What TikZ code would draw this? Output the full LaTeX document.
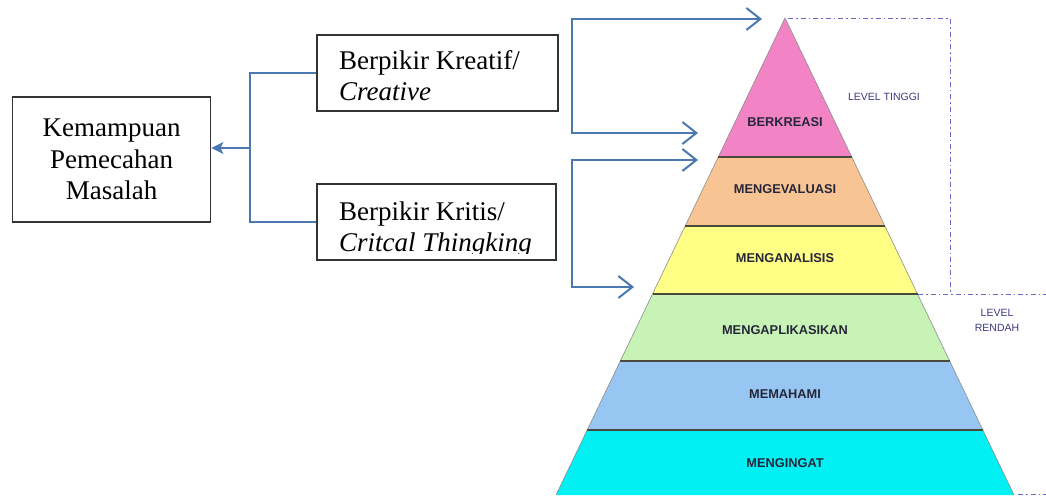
\documentclass[tikz,border=0pt]{standalone}
\usepackage{fontspec}
\setmainfont{Liberation Serif}
\newfontfamily\labfont{Liberation Sans}
\usetikzlibrary{arrows.meta,calc}
\definecolor{arrowblue}{HTML}{4A78B0}
\definecolor{dashblue}{HTML}{6A6AC8}
\definecolor{lvpink}{HTML}{F284C6}
\definecolor{lvorange}{HTML}{F8C493}
\definecolor{lvyellow}{HTML}{FFFF85}
\definecolor{lvgreen}{HTML}{C8F3B6}
\definecolor{lvblue}{HTML}{98C6F2}
\definecolor{lvcyan}{HTML}{00F0F4}
\definecolor{edgedark}{HTML}{4A4A3A}
\definecolor{lvtext}{HTML}{26263A}
\definecolor{leveltext}{HTML}{3A3A84}
\tikzset{
  box/.style={draw=black!80, line width=1.4pt, fill=white, inner sep=0pt},
  bigtext/.style={font=\fontsize{27}{31.5}\selectfont},
  lvl/.style={font=\labfont\bfseries\fontsize{12.8}{14}\selectfont, text=lvtext, inner sep=0pt},
  leveltag/.style={font=\labfont\fontsize{10.5}{15}\selectfont, text=leveltext, align=center, inner sep=0pt},
  conn/.style={draw=arrowblue, line width=2pt},
  barrow/.style={draw=arrowblue, line width=2pt, -{Straight Barb[length=14pt,width=22pt]}},
  dashln/.style={draw=dashblue, line width=1pt, dash pattern=on 5pt off 3pt on 1.5pt off 3pt},
  layeredge/.style={draw=edgedark, line width=1.5pt}
}
\begin{document}
\begin{tikzpicture}[x=1pt,y=-1pt]
\useasboundingbox[fill=white] (0,0) rectangle (1046,497);

% pyramid layers
\fill[lvpink]   (785,18) -- (851.7,157) -- (718.3,157) -- cycle;
\fill[lvorange] (718.3,157) -- (851.7,157) -- (884.8,226) -- (685.2,226) -- cycle;
\fill[lvyellow] (685.2,226) -- (884.8,226) -- (917.5,294) -- (652.5,294) -- cycle;
\fill[lvgreen]  (652.5,294) -- (917.5,294) -- (949.6,361) -- (620.4,361) -- cycle;
\fill[lvblue]   (620.4,361) -- (949.6,361) -- (982.8,430) -- (587.2,430) -- cycle;
\fill[lvcyan]   (587.2,430) -- (982.8,430) -- (1014,495) -- (556,495) -- cycle;
\draw[draw=black!45, line width=0.6pt] (556,495) -- (785,18) -- (1014,495);
\draw[layeredge] (718.3,157) -- (851.7,157);
\draw[layeredge] (685.2,226) -- (884.8,226);
\draw[layeredge] (652.5,294) -- (917.5,294);
\draw[layeredge] (620.4,361) -- (949.6,361);
\draw[layeredge] (587.2,430) -- (982.8,430);

\node[lvl] (berkreasi) at (785,122) {BERKREASI};
\node[lvl] (mengevaluasi) at (785,189) {MENGEVALUASI};
\node[lvl] (menganalisis) at (785,258) {MENGANALISIS};
\node[lvl] (mengaplikasikan) at (785,330) {MENGAPLIKASIKAN};
\node[lvl] (memahami) at (785,394) {MEMAHAMI};
\node[lvl] (mengingat) at (785,463) {MENGINGAT};

% dashed level frame
\draw[dashln] (788,19) -- (950,19) -- (950,294);
\draw[dashln] (918,294) -- (1046,294);
\draw[dashln] (1018,494) -- (1046,494);
\node[leveltag] (tinggi) at (884,97) {LEVEL TINGGI};
\node[leveltag] (rendah) at (997,320) {LEVEL\\RENDAH};

% left boxes
\node[box, bigtext, minimum width=198pt, minimum height=125pt, align=center] (kem) at (111.7,159.5)
  {Kemampuan\\Pemecahan\\Masalah};
\node[box, minimum width=241pt, minimum height=76pt] (kreatif) at (437.5,73) {};
\node[bigtext, anchor=base west, align=left, inner sep=0pt] (kreatiftext) at (339,101)
  {Berpikir Kreatif/\\\textit{Creative}};
\node[box, minimum width=239pt, minimum height=76pt] (kritis) at (436.5,222) {};
\begin{scope}
  \clip (320,187) rectangle (553,253.5);
  \node[bigtext, anchor=base west, align=left, inner sep=0pt] (kritistext) at (339,251.5)
    {Berpikir Kritis/\\\textit{Critcal Thingking}};
\end{scope}

% left connector
\coordinate (jn) at (250,148);
\draw[conn] (kreatif.west) -| (jn) |- (kritis.west);
\draw[conn, -{Stealth[length=12pt,width=12pt,inset=3pt]}] (jn) -- (jn -| kem.east);

% bracket arrows to pyramid
\coordinate (v1) at (572,76);
\coordinate (t1) at (762,19);
\coordinate (t2) at (698,133);
\coordinate (v2) at (572,223);
\coordinate (t3) at (698,160);
\coordinate (t4) at (634,287);
\draw[barrow] (v1) |- (t1);
\draw[barrow] (v1) |- (t2);
\draw[barrow] (v2) |- (t3);
\draw[barrow] (v2) |- (t4);
\end{tikzpicture}
\end{document}
